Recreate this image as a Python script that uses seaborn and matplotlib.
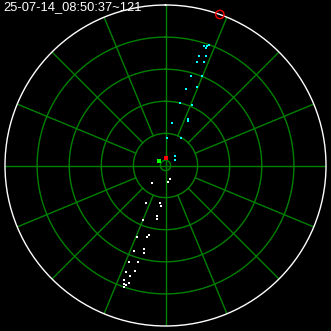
import numpy as np
import pandas as pd
import matplotlib
matplotlib.use("Agg")
import matplotlib.pyplot as plt
import seaborn as sns

# ---- data (azimuth in degrees clockwise from north, range in display units; max range 50) ----
title_text = "25-07-14_08:50:37~121"

cyan_az = [17.9, 19.2, 20.0, 19.1, 20.3, 17.0, 16.9, 20.4, 15.7, 22.0, 14.8,
           21.9, 12.8, 23.8, 26.1, 26.8, 8.3, 29.4, 2.5, 43.2, 59.1]
cyan_rng = [39.2, 39.5, 39.8, 38.7, 36.5, 35.6, 33.6, 34.3, 29.1, 30.2, 24.7,
            26.4, 20.0, 20.6, 16.0, 15.6, 13.4, 9.9, 8.7, 4.2, 3.3]

white_az = [162.4, 171.2, 218.7, 207.5, 188.8, 186.8, 189.9, 189.3, 202.4, 193.6,
            194.6, 201.7, 194.6, 194.0, 200.5, 196.1, 200.9, 196.3, 200.5, 197.9,
            200.1, 197.4, 199.4, 198.3, 198.9]
white_rng = [4.3, 5.1, 6.9, 13.2, 11.8, 12.7, 16.0, 16.9, 18.4, 22.3,
             23.0, 24.1, 27.0, 28.2, 28.4, 31.3, 32.2, 34.3, 35.4, 36.2,
             38.0, 38.5, 39.3, 39.3, 40.1]

red_sq_az, red_sq_rng = [0.0], [2.3]
green_sq_az, green_sq_rng = [305.0], [2.5]
red_circ_az, red_circ_rng = [19.8], [50.0]

ring_ranges = [10, 20, 30, 40]
max_range = 50
center_ring = 1.6
spoke_step = 22.5

# ---- figure ----
W = 331
fig = plt.figure(figsize=(W / 100, W / 100), dpi=100, facecolor="black")
rad = 160.5 / W
ax = fig.add_axes([0.5 - rad, 0.5 - rad, 2 * rad, 2 * rad], projection="polar")
ax.set_facecolor("black")
ax.set_theta_zero_location("N")
ax.set_theta_direction(-1)
ax.grid(False)
ax.set_xticks([])
ax.set_yticks([])

grid_col = "#008000"
th = np.linspace(0, 2 * np.pi, 721)
for rr in ring_ranges:
    ax.plot(th, np.full_like(th, rr), color=grid_col, lw=1.0, zorder=1)
ax.plot(th, np.full_like(th, center_ring), color=grid_col, lw=1.0, zorder=1)
for k in range(16):
    a = np.deg2rad(k * spoke_step)
    r0 = 0 if k % 4 == 0 else ring_ranges[0]
    ax.plot([a, a], [r0, max_range], color=grid_col, lw=1.0, zorder=1)

ax.spines["polar"].set_color("white")
ax.spines["polar"].set_linewidth(1.0)

df_c = pd.DataFrame({"theta": np.deg2rad(cyan_az), "r": cyan_rng})
df_w = pd.DataFrame({"theta": np.deg2rad(white_az), "r": white_rng})
sns.scatterplot(data=df_c, x="theta", y="r", ax=ax, marker="s", s=4.0,
                color="#00ffff", linewidth=0, zorder=3)
sns.scatterplot(data=df_w, x="theta", y="r", ax=ax, marker="s", s=4.0,
                color="white", linewidth=0, zorder=3)
sns.scatterplot(x=np.deg2rad(red_sq_az), y=red_sq_rng, ax=ax, marker="s", s=5,
                color="red", linewidth=0, zorder=4)
sns.scatterplot(x=np.deg2rad(green_sq_az), y=green_sq_rng, ax=ax, marker="s", s=9,
                color="#00ff00", linewidth=0, zorder=4)
sns.scatterplot(x=np.deg2rad(red_circ_az), y=red_circ_rng, ax=ax, marker="o", s=36,
                facecolor="none", edgecolor="red", linewidth=1.0, zorder=5)

ax.set_xlabel("")
ax.set_ylabel("")
ax.set_ylim(0, max_range)
ax.set_xticks([])
ax.set_yticks([])
ax.grid(False)
for c in ax.collections:
    c.set_clip_on(False)

fig.text(3 / W, 1 - 1.5 / W, title_text, color="white", fontsize=9.3,
         family="Liberation Sans", ha="left", va="top")

fig.savefig("out.png", dpi=100, facecolor="black")
